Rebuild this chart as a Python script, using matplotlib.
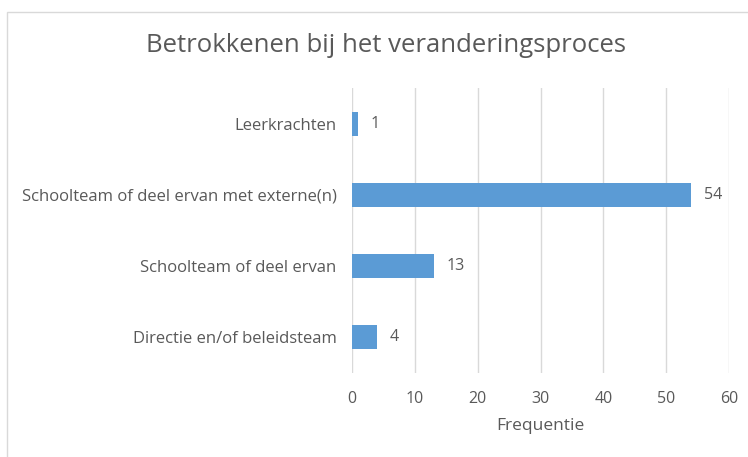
import matplotlib.pyplot as plt
from matplotlib.patches import Rectangle

categories = ['Directie en/of beleidsteam', 'Schoolteam of deel ervan',
              'Schoolteam of deel ervan met externe(n)', 'Leerkrachten']
values = [4, 13, 54, 1]
xticks = [0, 10, 20, 30, 40, 50, 60]

plt.rcParams['font.family'] = ['Open Sans', 'DejaVu Sans']
txt = '#595959'
blue = '#5B9BD5'

fig = plt.figure(figsize=(7.48, 4.57), dpi=100)
ax = fig.add_axes([352/748, 1 - 373/457, (729 - 352)/748, (373 - 88)/457])

ax.barh(range(len(categories)), values, height=0.34, color=blue, zorder=3)
for i, v in enumerate(values):
    ax.annotate(str(v), (v, i), xytext=(9, 0), textcoords='offset points',
                va='center', ha='left', fontsize=11.5, color=txt)

ax.set_xlim(0, 60)
ax.set_ylim(-0.5, len(categories) - 0.5)
ax.set_xticks(xticks)
ax.set_yticks(range(len(categories)))
ax.set_yticklabels(categories)
ax.tick_params(length=0, labelsize=11.5, colors=txt)
ax.tick_params(axis='y', pad=11, labelsize=12)
ax.tick_params(axis='x', pad=13)
ax.grid(axis='x', color='#D9D9D9', linewidth=1, zorder=0)
for s in ax.spines.values():
    s.set_visible(False)
ax.set_xlabel('Frequentie', fontsize=12.5, color=txt, labelpad=8)

fig.text(386/748, 1 - 46/457, 'Betrokkenen bij het veranderingsproces',
         ha='center', va='center', fontsize=18.5, color=txt)

# chart border (right and bottom edges fall outside the crop)
fig.patches.append(Rectangle((7/748, -0.1), 1.1, 1 - 12/457 + 0.1,
                             transform=fig.transFigure, fill=False,
                             edgecolor='#D9D9D9', linewidth=1))

fig.savefig('out.png', dpi=100)
